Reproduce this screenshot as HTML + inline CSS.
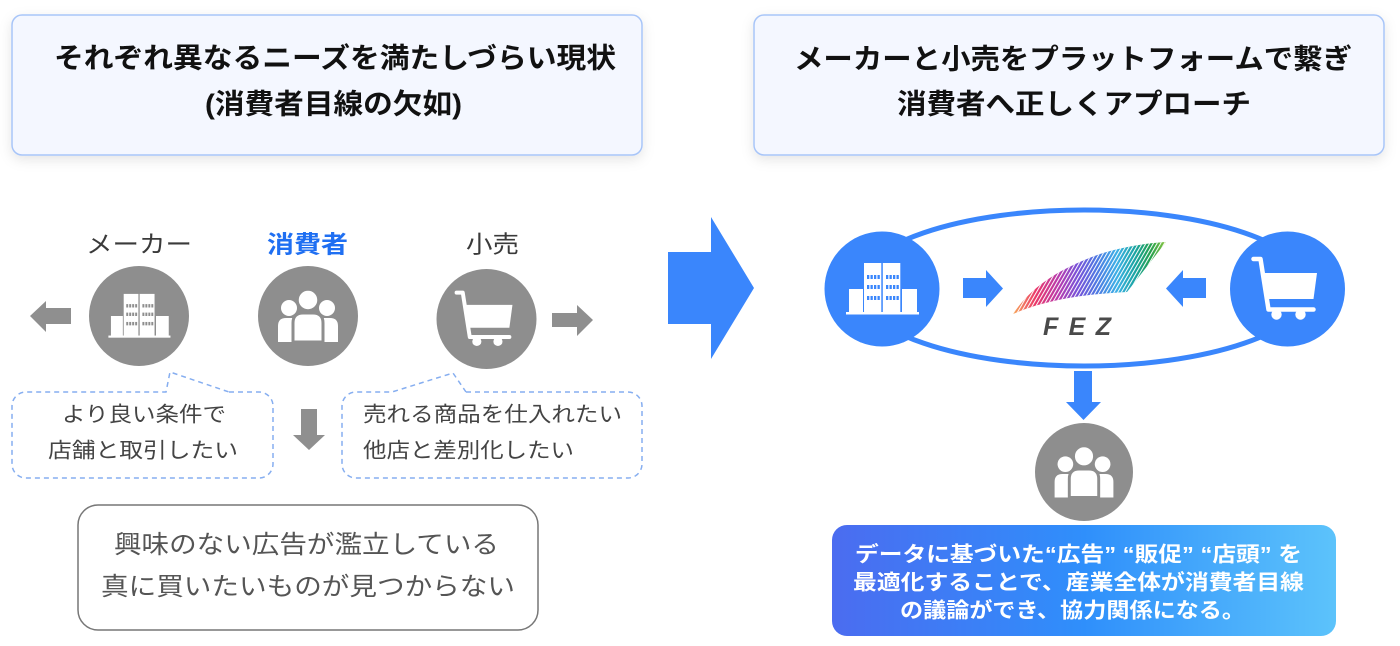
<!DOCTYPE html>
<html><head><meta charset="utf-8">
<style>
html,body{margin:0;padding:0;background:#fff;}
svg{display:block;}
text{font-family:"Liberation Sans","Noto Sans CJK JP",sans-serif;}
</style></head>
<body>
<svg width="1400" height="646" viewBox="0 0 1400 646" xmlns="http://www.w3.org/2000/svg">
<defs>
  <filter id="sh" x="-10%" y="-20%" width="120%" height="150%">
    <feDropShadow dx="0" dy="4" stdDeviation="6" flood-color="#000" flood-opacity="0.10"/>
  </filter>
  <linearGradient id="gbox" x1="0" y1="0" x2="1" y2="0">
    <stop offset="0" stop-color="#4b6cf0"/>
    <stop offset="0.5" stop-color="#2f8ffb"/>
    <stop offset="1" stop-color="#5cc3fb"/>
  </linearGradient>
  <linearGradient id="fezg" gradientUnits="userSpaceOnUse" x1="1013" y1="0" x2="1166" y2="0">
    <stop offset="0" stop-color="#f7a85a"/>
    <stop offset="0.15" stop-color="#ea3568"/>
    <stop offset="0.3" stop-color="#b63aae"/>
    <stop offset="0.42" stop-color="#7850d8"/>
    <stop offset="0.55" stop-color="#4c78e2"/>
    <stop offset="0.68" stop-color="#3bb0e6"/>
    <stop offset="0.8" stop-color="#17a3a0"/>
    <stop offset="0.9" stop-color="#22a04c"/>
    <stop offset="1" stop-color="#8cc63f"/>
  </linearGradient>
  <pattern id="stripes" width="3.2" height="10" patternUnits="userSpaceOnUse" patternTransform="rotate(30)">
    <rect x="0" y="0" width="1.0" height="10" fill="#fff"/>
  </pattern>
  <clipPath id="fezclip">
    <path d="M1013 314 C1028 292 1050 272 1100 254 C1125 246 1150 243 1166 242 L1127 292 C1090 294 1050 298 1013 314 Z"/>
  </clipPath>

  <g id="bld">
    <rect x="-36" y="23" width="73" height="2.5" fill="#fff"/>
    <rect x="-33" y="0" width="14" height="24" fill="#fff"/>
    <rect x="-18" y="-26" width="17.3" height="50" fill="#fff"/>
    <rect x="0.8" y="-26" width="17.5" height="50" fill="#fff"/>
    <rect x="20" y="0" width="15" height="24" fill="#fff"/>
    <g fill="currentColor">
      <rect x="-15" y="-14" width="2.3" height="4"/><rect x="-11.5" y="-14" width="2.3" height="4"/><rect x="-8" y="-14" width="2.3" height="4"/><rect x="-4.5" y="-14" width="2.3" height="4"/>
      <rect x="-15" y="-4" width="2.3" height="4"/><rect x="-11.5" y="-4" width="2.3" height="4"/><rect x="-8" y="-4" width="2.3" height="4"/><rect x="-4.5" y="-4" width="2.3" height="4"/>
      <rect x="-15" y="7" width="2.3" height="4"/><rect x="-11.5" y="7" width="2.3" height="4"/><rect x="-8" y="7" width="2.3" height="4"/><rect x="-4.5" y="7" width="2.3" height="4"/>
      <rect x="4" y="-14" width="2.3" height="4"/><rect x="7.5" y="-14" width="2.3" height="4"/><rect x="11" y="-14" width="2.3" height="4"/><rect x="14.5" y="-14" width="2.3" height="4"/>
      <rect x="4" y="-4" width="2.3" height="4"/><rect x="7.5" y="-4" width="2.3" height="4"/><rect x="11" y="-4" width="2.3" height="4"/><rect x="14.5" y="-4" width="2.3" height="4"/>
      <rect x="4" y="7" width="2.3" height="4"/><rect x="7.5" y="7" width="2.3" height="4"/><rect x="11" y="7" width="2.3" height="4"/><rect x="14.5" y="7" width="2.3" height="4"/>
    </g>
  </g>

  <g id="cart">
    <path d="M-34 -30 H-27 L-19 20.5 H26" stroke="#fff" stroke-width="4.5" fill="none" stroke-linejoin="round" stroke-linecap="round"/>
    <path d="M-25 -16 H29.5 L26 10 H-20.5 Z" fill="#fff"/>
    <circle cx="-11" cy="25.5" r="5.2" fill="#fff"/>
    <circle cx="13" cy="25.5" r="5.2" fill="#fff"/>
  </g>

  <g id="ppl">
    <circle cx="-19" cy="-8" r="8" fill="#fff"/>
    <circle cx="19" cy="-8" r="8" fill="#fff"/>
    <path d="M-30 26 L-30 10 Q-30 2 -22 2 L-13 2 L-13 26 Z" fill="#fff"/>
    <path d="M30 26 L30 10 Q30 2 22 2 L13 2 L13 26 Z" fill="#fff"/>
    <path d="M-15 26 L-15 7 Q-15 -3 -5 -3 L5 -3 Q15 -3 15 7 L15 26 Z" fill="#fff" stroke="currentColor" stroke-width="3"/>
    <circle cx="0" cy="-16" r="10.5" fill="#fff" stroke="currentColor" stroke-width="2.5"/>
  </g>
</defs>

<!-- Header boxes -->
<rect x="12" y="15" width="630" height="140" rx="10" fill="#f4f7ff" stroke="#a8c5f8" stroke-width="1.5" filter="url(#sh)"/>
<rect x="754" y="15" width="630" height="140" rx="10" fill="#f4f7ff" stroke="#a8c5f8" stroke-width="1.5" filter="url(#sh)"/>

<text x="54" y="58" dominant-baseline="central" font-size="28" font-weight="bold" fill="#111" textLength="562" lengthAdjust="spacingAndGlyphs">それぞれ異なるニーズを満たしづらい現状</text>
<text x="205" y="104" dominant-baseline="central" font-size="28" font-weight="bold" fill="#111" textLength="257" lengthAdjust="spacingAndGlyphs">(消費者目線の欠如)</text>

<text x="794" y="59" dominant-baseline="central" font-size="28" font-weight="bold" fill="#111" textLength="558" lengthAdjust="spacingAndGlyphs">メーカーと小売をプラットフォームで繋ぎ</text>
<text x="897" y="104" dominant-baseline="central" font-size="28" font-weight="bold" fill="#111" textLength="354" lengthAdjust="spacingAndGlyphs">消費者へ正しくアプローチ</text>

<!-- Left labels -->
<text x="86" y="245" dominant-baseline="central" font-size="24" fill="#3a3a3a" textLength="106" lengthAdjust="spacingAndGlyphs">メーカー</text>
<text x="267" y="245" dominant-baseline="central" font-size="24" font-weight="bold" fill="#1f6ff2" textLength="81" lengthAdjust="spacingAndGlyphs">消費者</text>
<text x="466" y="245" dominant-baseline="central" font-size="24" fill="#3a3a3a" textLength="53" lengthAdjust="spacingAndGlyphs">小売</text>

<!-- grey arrows -->
<polygon points="30,316 46,301 46,308 71,308 71,324 46,324 46,332" fill="#8f8f8f"/>
<polygon points="552,313 577,313 577,305 593,320 577,336 577,327 552,327" fill="#8f8f8f"/>
<polygon points="301,409 317,409 317,435 325,435 309,450 293,435 301,435" fill="#8f8f8f"/>

<!-- grey circles -->
<circle cx="139" cy="316" r="50" fill="#8e8e8e"/>
<use href="#bld" transform="translate(139,316) scale(0.85)" color="#8e8e8e"/>
<circle cx="308" cy="316" r="50" fill="#8e8e8e"/>
<use href="#ppl" transform="translate(308,316)" color="#8e8e8e"/>
<circle cx="486.5" cy="319" r="50" fill="#8e8e8e"/>
<use href="#cart" transform="translate(486.5,319) scale(0.88)"/>

<!-- dashed callouts -->
<path d="M229 392 L259 392 A14 14 0 0 1 273 406 L273 464 A14 14 0 0 1 259 478 L26 478 A14 14 0 0 1 12 464 L12 406 A14 14 0 0 1 26 392 L166 392 L170 372 L229 392" fill="none" stroke="#86aef0" stroke-width="1.5" stroke-dasharray="5 4"/>
<path d="M466 392 L628 392 A14 14 0 0 1 642 406 L642 464 A14 14 0 0 1 628 478 L356 478 A14 14 0 0 1 342 464 L342 406 A14 14 0 0 1 356 392 L392 392 L453 373 L466 392" fill="none" stroke="#86aef0" stroke-width="1.5" stroke-dasharray="5 4"/>

<text x="62" y="415" dominant-baseline="central" font-size="21" fill="#444" textLength="164" lengthAdjust="spacingAndGlyphs">より良い条件で</text>
<text x="48" y="451" dominant-baseline="central" font-size="21" fill="#444" textLength="190" lengthAdjust="spacingAndGlyphs">店舗と取引したい</text>
<text x="363" y="415" dominant-baseline="central" font-size="21" fill="#444" textLength="259" lengthAdjust="spacingAndGlyphs">売れる商品を仕入れたい</text>
<text x="363" y="451" dominant-baseline="central" font-size="21" fill="#444" textLength="211" lengthAdjust="spacingAndGlyphs">他店と差別化したい</text>

<!-- bottom left box -->
<rect x="78" y="505" width="460" height="125" rx="20" fill="#fff" stroke="#777" stroke-width="1.5"/>
<text x="114" y="545" dominant-baseline="central" font-size="25" fill="#555" textLength="385" lengthAdjust="spacingAndGlyphs">興味のない広告が濫立している</text>
<text x="101" y="587" dominant-baseline="central" font-size="25" fill="#555" textLength="414" lengthAdjust="spacingAndGlyphs">真に買いたいものが見つからない</text>

<!-- big arrow -->
<polygon points="668,252 711,252 711,217 754,288 711,359 711,324 668,324" fill="#3a86fc"/>

<!-- right: ellipse -->
<ellipse cx="1084" cy="288" rx="227" ry="78" fill="#fff" stroke="#3a86fc" stroke-width="5"/>

<circle cx="882" cy="289" r="57.5" fill="#3a86fc"/>
<use href="#bld" transform="translate(882,289)" color="#3a86fc"/>
<circle cx="1287.5" cy="289" r="57.5" fill="#3a86fc"/>
<use href="#cart" transform="translate(1287.5,289)"/>

<polygon points="963,278 986,278 986,270 1003,288.5 986,307 986,298 963,298" fill="#3a86fc"/>
<polygon points="1206,278 1183,278 1183,270 1166,288.5 1183,307 1183,298 1206,298" fill="#3a86fc"/>

<!-- FEZ logo -->
<g clip-path="url(#fezclip)">
  <rect x="1005" y="236" width="170" height="85" fill="url(#fezg)"/>
  <rect x="1005" y="236" width="170" height="85" fill="url(#stripes)"/>
</g>
<text x="1043" y="327" dominant-baseline="central" font-size="25" font-style="italic" font-weight="bold" fill="#4a4a4a" textLength="68" lengthAdjust="spacing">FEZ</text>

<!-- down arrow -->
<polygon points="1074,371 1092,371 1092,402 1101,402 1083.5,420 1066,402 1074,402" fill="#3a86fc"/>

<circle cx="1084" cy="472" r="49" fill="#8e8e8e"/>
<use href="#ppl" transform="translate(1084,472) scale(0.98)" color="#8e8e8e"/>

<!-- gradient box -->
<rect x="832" y="525" width="504" height="111" rx="15" fill="url(#gbox)"/>
<text x="855" y="555" dominant-baseline="central" font-size="21" font-weight="bold" fill="#fff" textLength="447" lengthAdjust="spacingAndGlyphs">データに基づいた“広告” “販促” “店頭” を</text>
<text x="853" y="583" dominant-baseline="central" font-size="21" font-weight="bold" fill="#fff" textLength="451" lengthAdjust="spacingAndGlyphs">最適化することで、産業全体が消費者目線</text>
<text x="900" y="611" dominant-baseline="central" font-size="21" font-weight="bold" fill="#fff" textLength="345" lengthAdjust="spacingAndGlyphs">の議論ができ、協力関係になる。</text>
</svg>
</body></html>
